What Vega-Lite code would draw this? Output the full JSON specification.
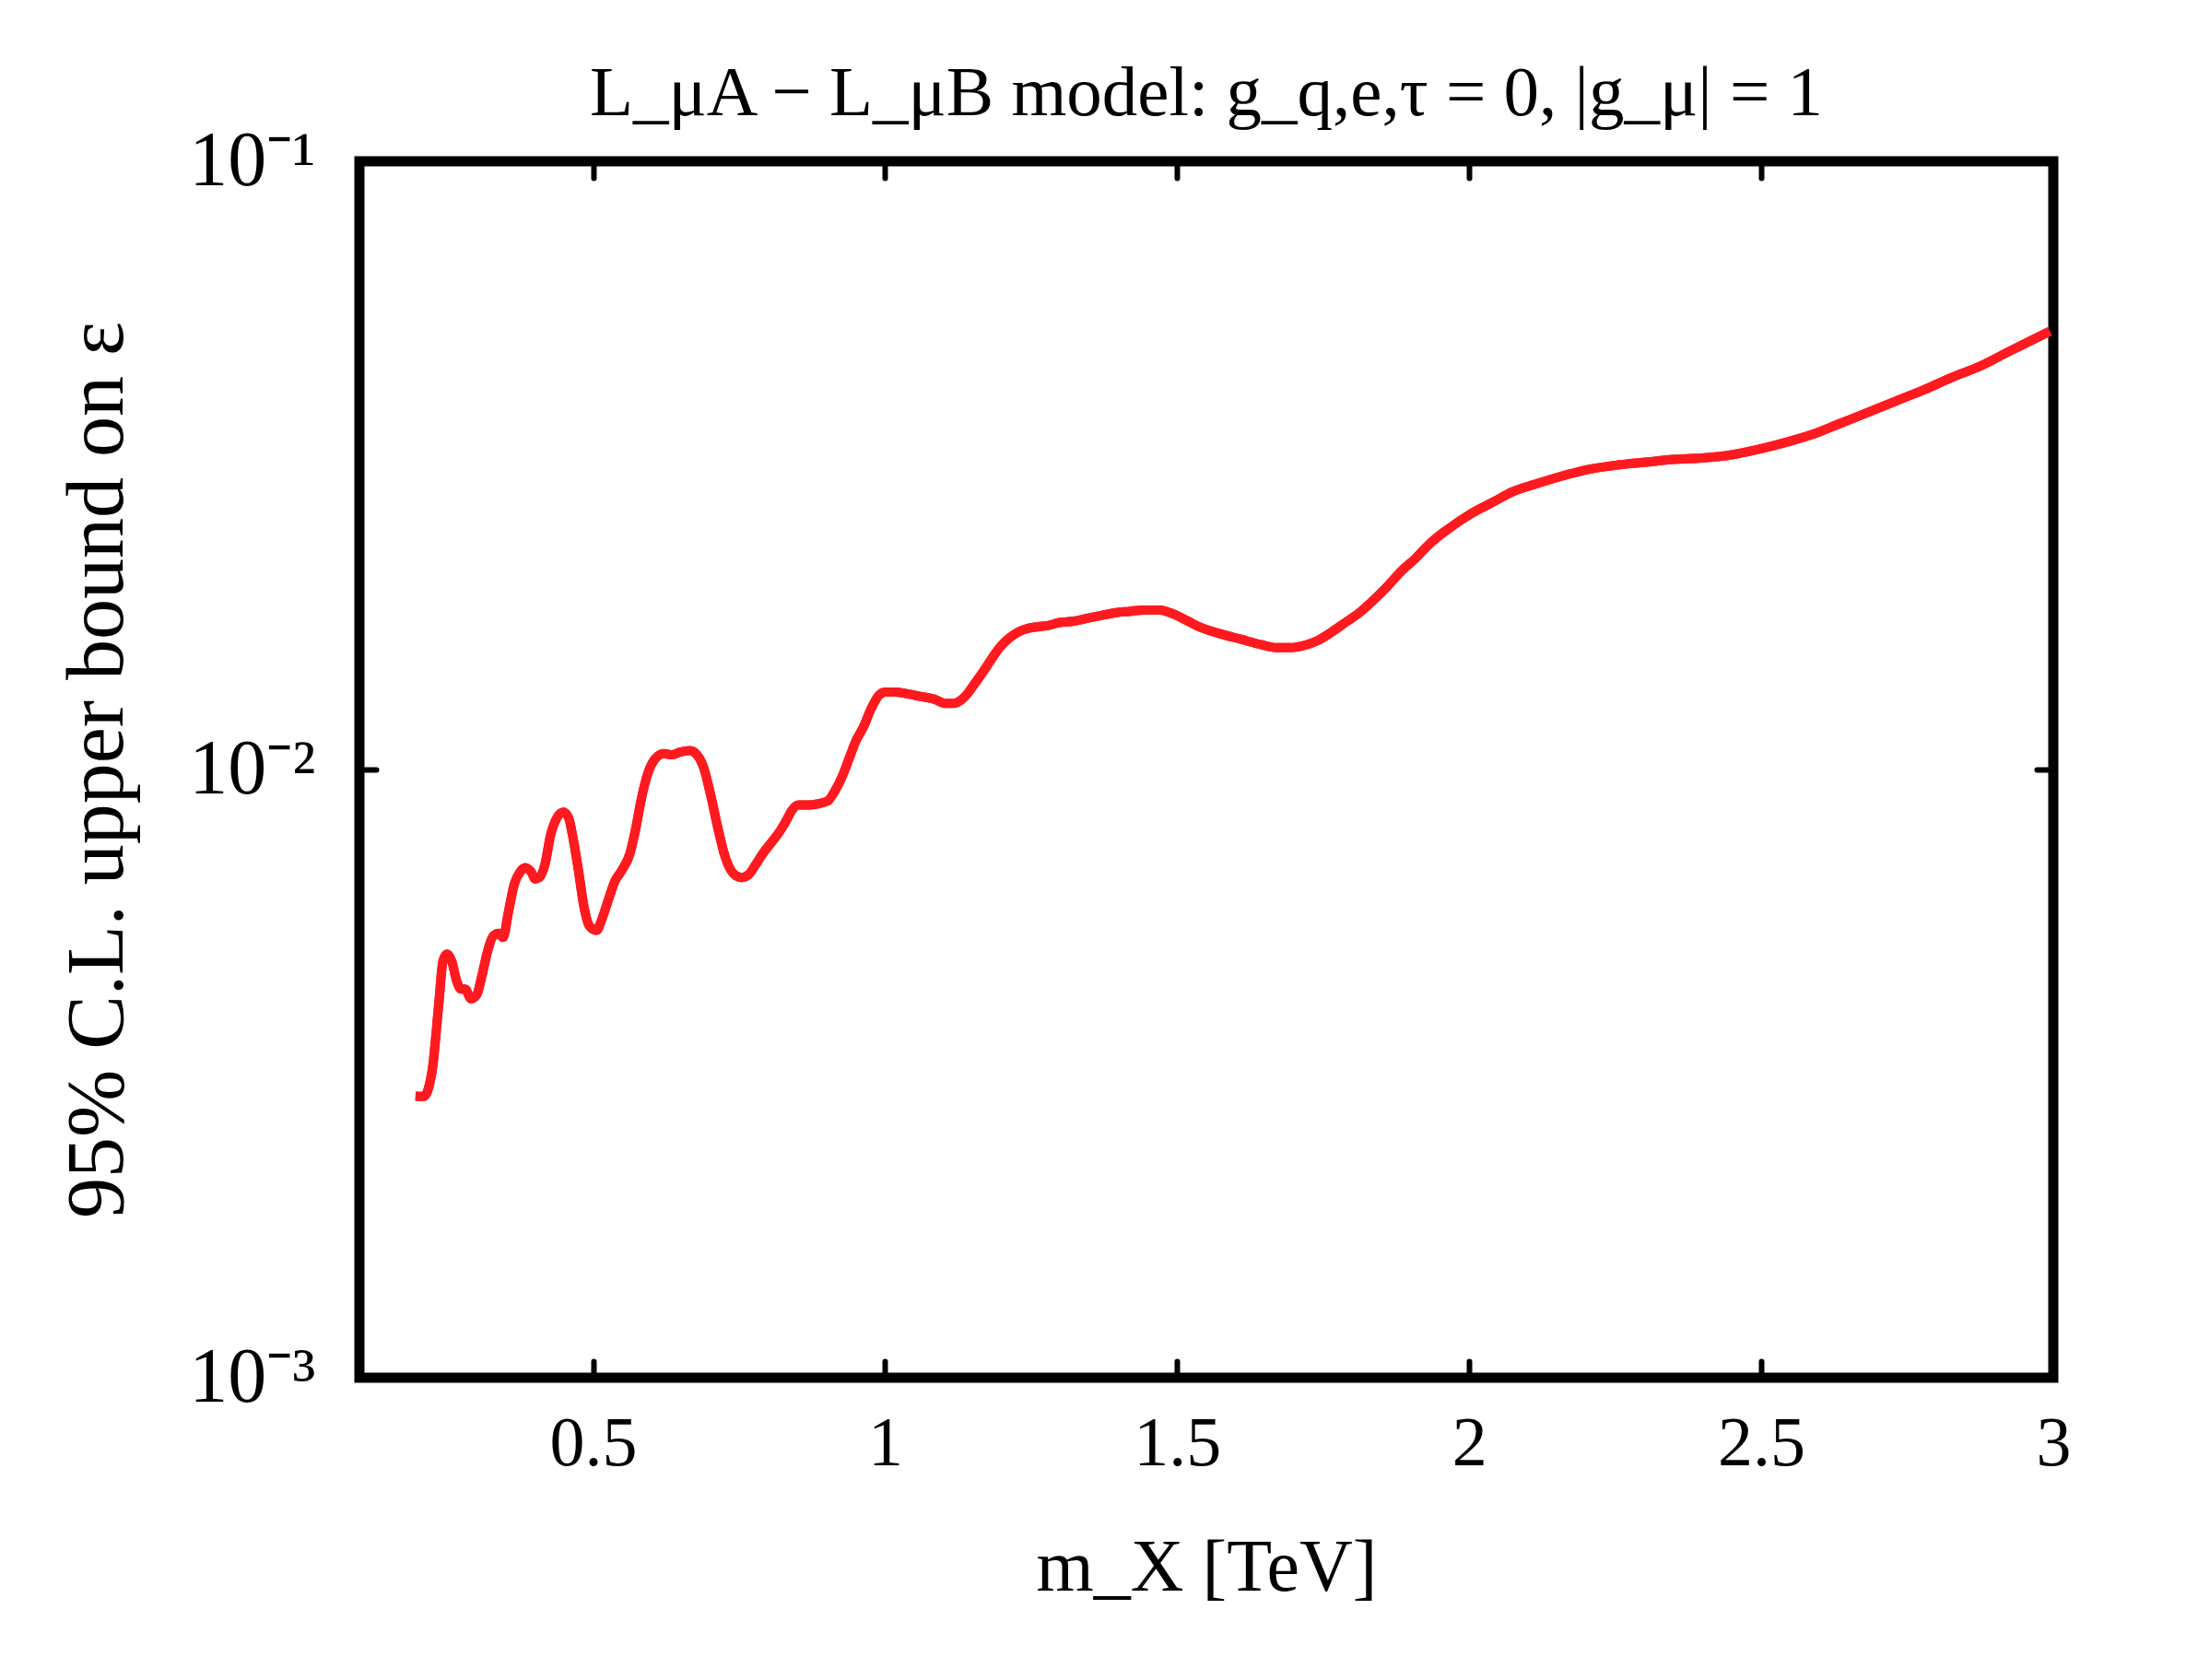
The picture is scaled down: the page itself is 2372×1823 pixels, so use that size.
{
  "$schema": "https://vega.github.io/schema/vega-lite/v6.json",
  "width": 1838,
  "height": 1320,
  "autosize": {"type": "none"},
  "padding": {"left": 390, "top": 175, "right": 144, "bottom": 328},
  "background": "white",
  "title": {"text": "L_μA − L_μB  model:  g_q,e,τ = 0,  |g_μ| = 1", "font": "Liberation Serif", "fontSize": 77, "fontWeight": "normal", "color": "black", "offset": -8, "anchor": "middle"},
  "data": {"values": [
    {"m": 0.196, "eps": 0.002903}, {"m": 0.210, "eps": 0.00290}, {"m": 0.224, "eps": 0.003174}, {"m": 0.236, "eps": 0.004133},
    {"m": 0.243, "eps": 0.004842}, {"m": 0.250, "eps": 0.004971}, {"m": 0.258, "eps": 0.004842}, {"m": 0.267, "eps": 0.004473},
    {"m": 0.274, "eps": 0.004356}, {"m": 0.281, "eps": 0.004356}, {"m": 0.291, "eps": 0.004197}, {"m": 0.301, "eps": 0.004266},
    {"m": 0.310, "eps": 0.004594}, {"m": 0.320, "eps": 0.005050}, {"m": 0.329, "eps": 0.005323}, {"m": 0.339, "eps": 0.005380},
    {"m": 0.346, "eps": 0.005295}, {"m": 0.355, "eps": 0.005823}, {"m": 0.365, "eps": 0.006471}, {"m": 0.375, "eps": 0.006786},
    {"m": 0.384, "eps": 0.006895}, {"m": 0.394, "eps": 0.006786}, {"m": 0.401, "eps": 0.006610}, {"m": 0.408, "eps": 0.006645},
    {"m": 0.418, "eps": 0.007004}, {"m": 0.427, "eps": 0.007783}, {"m": 0.437, "eps": 0.008292}, {"m": 0.449, "eps": 0.008513},
    {"m": 0.458, "eps": 0.008337}, {"m": 0.465, "eps": 0.007783}, {"m": 0.475, "eps": 0.006823}, {"m": 0.484, "eps": 0.005978},
    {"m": 0.494, "eps": 0.005525}, {"m": 0.506, "eps": 0.005438}, {"m": 0.515, "eps": 0.005672}, {"m": 0.527, "eps": 0.006138},
    {"m": 0.537, "eps": 0.006540}, {"m": 0.549, "eps": 0.006823}, {"m": 0.563, "eps": 0.007266}, {"m": 0.573, "eps": 0.007990},
    {"m": 0.582, "eps": 0.008882}, {"m": 0.594, "eps": 0.009869}, {"m": 0.606, "eps": 0.010404}, {"m": 0.621, "eps": 0.010624},
    {"m": 0.635, "eps": 0.010570}, {"m": 0.649, "eps": 0.010680}, {"m": 0.666, "eps": 0.010737}, {"m": 0.678, "eps": 0.010570},
    {"m": 0.690, "eps": 0.010025}, {"m": 0.702, "eps": 0.009023}, {"m": 0.714, "eps": 0.007990}, {"m": 0.726, "eps": 0.007190},
    {"m": 0.740, "eps": 0.006749}, {"m": 0.754, "eps": 0.006645}, {"m": 0.766, "eps": 0.006714}, {"m": 0.778, "eps": 0.006967},
    {"m": 0.792, "eps": 0.007305}, {"m": 0.807, "eps": 0.007621}, {"m": 0.821, "eps": 0.007946}, {"m": 0.831, "eps": 0.008247},
    {"m": 0.840, "eps": 0.008558}, {"m": 0.852, "eps": 0.008741}, {"m": 0.869, "eps": 0.008741}, {"m": 0.886, "eps": 0.008787},
    {"m": 0.902, "eps": 0.008882}, {"m": 0.914, "eps": 0.009216}, {"m": 0.926, "eps": 0.009714}, {"m": 0.938, "eps": 0.010404},
    {"m": 0.950, "eps": 0.011143}, {"m": 0.964, "eps": 0.011808}, {"m": 0.976, "eps": 0.012582}, {"m": 0.988, "eps": 0.013191},
    {"m": 1.000, "eps": 0.013401}, {"m": 1.017, "eps": 0.013401}, {"m": 1.036, "eps": 0.013331}, {"m": 1.060, "eps": 0.013191},
    {"m": 1.084, "eps": 0.013053}, {"m": 1.103, "eps": 0.012848}, {"m": 1.117, "eps": 0.012848}, {"m": 1.132, "eps": 0.013053},
    {"m": 1.143, "eps": 0.013401}, {"m": 1.155, "eps": 0.013905}, {"m": 1.170, "eps": 0.014580}, {"m": 1.184, "eps": 0.015288},
    {"m": 1.198, "eps": 0.015946}, {"m": 1.213, "eps": 0.016460}, {"m": 1.227, "eps": 0.016812}, {"m": 1.246, "eps": 0.017079},
    {"m": 1.263, "eps": 0.017170}, {"m": 1.280, "eps": 0.017261}, {"m": 1.299, "eps": 0.017445}, {"m": 1.323, "eps": 0.017538},
    {"m": 1.346, "eps": 0.017724}, {"m": 1.370, "eps": 0.017913}, {"m": 1.394, "eps": 0.018100}, {"m": 1.418, "eps": 0.018197},
    {"m": 1.442, "eps": 0.018294}, {"m": 1.471, "eps": 0.018294}, {"m": 1.494, "eps": 0.018004}, {"m": 1.514, "eps": 0.017630},
    {"m": 1.537, "eps": 0.017170}, {"m": 1.573, "eps": 0.016723}, {"m": 1.609, "eps": 0.016373}, {"m": 1.645, "eps": 0.016032},
    {"m": 1.669, "eps": 0.015864}, {"m": 1.693, "eps": 0.015864}, {"m": 1.721, "eps": 0.016032}, {"m": 1.740, "eps": 0.016287},
    {"m": 1.764, "eps": 0.016812}, {"m": 1.788, "eps": 0.017445}, {"m": 1.812, "eps": 0.018100}, {"m": 1.836, "eps": 0.018980},
    {"m": 1.860, "eps": 0.020008}, {"m": 1.884, "eps": 0.021203}, {"m": 1.908, "eps": 0.022233}, {"m": 1.931, "eps": 0.023442},
    {"m": 1.967, "eps": 0.024973}, {"m": 2.003, "eps": 0.026327}, {"m": 2.039, "eps": 0.027462}, {"m": 2.075, "eps": 0.028644},
    {"m": 2.111, "eps": 0.029413}, {"m": 2.158, "eps": 0.030355}, {"m": 2.206, "eps": 0.031170}, {"m": 2.254, "eps": 0.031669},
    {"m": 2.302, "eps": 0.032006}, {"m": 2.349, "eps": 0.032342}, {"m": 2.397, "eps": 0.032514}, {"m": 2.445, "eps": 0.032859},
    {"m": 2.493, "eps": 0.033563}, {"m": 2.540, "eps": 0.034457}, {"m": 2.588, "eps": 0.035563}, {"m": 2.636, "eps": 0.037097},
    {"m": 2.684, "eps": 0.038696}, {"m": 2.731, "eps": 0.040365}, {"m": 2.779, "eps": 0.042104}, {"m": 2.827, "eps": 0.044153},
    {"m": 2.875, "eps": 0.046056}, {"m": 2.922, "eps": 0.048549}, {"m": 2.970, "eps": 0.051160}, {"m": 2.994, "eps": 0.052530}
  ]},
  "config": {
    "view": {"stroke": "black", "strokeWidth": 11},
    "axis": {
      "grid": false, "domain": false, "ticks": true,
      "tickColor": "black", "tickWidth": 6, "tickCap": "round", "tickSize": -18,
      "labelFont": "Liberation Serif", "labelFontSize": 76, "labelColor": "black",
      "titleFont": "Liberation Serif", "titleFontSize": 80, "titleFontWeight": "normal", "titleColor": "black",
      "labelFlush": false, "labelOverlap": false
    }
  },
  "layer": [
    {
      "mark": {"type": "line", "color": "#ff1a1f", "strokeWidth": 10, "interpolate": "monotone"},
      "encoding": {
        "x": {"field": "m", "type": "quantitative", "scale": {"domain": [0.1, 3], "nice": false},
              "axis": {"orient": "bottom", "values": [0.5, 1, 1.5, 2, 2.5, 3], "format": "~g", "title": "m_X [TeV]", "labelPadding": 52, "titlePadding": 58}},
        "y": {"field": "eps", "type": "quantitative", "scale": {"type": "log", "domain": [0.001, 0.1], "nice": false},
              "axis": {"orient": "left", "values": [0.001, 0.01, 0.1], "labelExpr": "datum.value < 0.005 ? '10⁻³' : datum.value < 0.05 ? '10⁻²' : '10⁻¹'", "labelFontSize": 84, "labelPadding": 66, "title": "95% C.L. upper bound on ε", "titleFontSize": 88, "titlePadding": 54}}
      }
    },
    {
      "mark": {"type": "line", "color": "#ff1a1f", "strokeWidth": 10, "interpolate": "monotone"},
      "encoding": {
        "x": {"field": "m", "type": "quantitative", "scale": {"domain": [0.1, 3], "nice": false},
              "axis": {"orient": "top", "values": [0.5, 1, 1.5, 2, 2.5], "labels": false, "title": null}},
        "y": {"field": "eps", "type": "quantitative", "scale": {"type": "log", "domain": [0.001, 0.1], "nice": false},
              "axis": {"orient": "right", "values": [0.01], "labels": false, "title": null}}
      }
    }
  ],
  "resolve": {"axis": {"x": "independent", "y": "independent"}}
}
